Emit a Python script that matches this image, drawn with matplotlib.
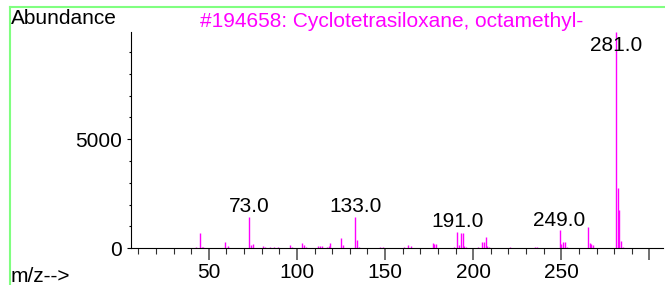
import matplotlib
matplotlib.use("Agg")
import matplotlib.pyplot as plt
from matplotlib.lines import Line2D
from matplotlib.ticker import MultipleLocator, FuncFormatter

# Datos del espectro de masas (m/z, abundancia)
mz = [43, 45, 46, 47, 59, 61, 73, 74, 75, 81, 82, 85, 87, 89, 96, 97,
      103, 104, 105, 112, 113, 114, 117, 118, 119, 125, 126, 133, 134, 135,
      147, 149, 161, 163, 165, 177, 178, 179, 189, 191, 192, 193, 194, 195,
      196, 203, 205, 206, 207, 208, 209, 221, 235, 236, 249, 250, 251, 252,
      253, 265, 266, 267, 268, 281, 282, 283, 284, 285]
abundance = [75, 720, 60, 60, 275, 90, 1450, 150, 215, 90, 60, 50, 50, 60,
             170, 50, 245, 150, 70, 105, 105, 100, 70, 120, 230, 450, 140,
             1450, 385, 75, 75, 40, 40, 150, 105, 245, 180, 200, 45, 765,
             150, 705, 690, 90, 45, 75, 290, 290, 535, 90, 40, 40, 75, 45,
             840, 215, 275, 290, 80, 980, 260, 215, 150, 9900, 2785, 1760,
             340, 75]
labeled = [73, 133, 191, 249, 281]
xtick_labels = [50, 100, 150, 200, 250]

title = "#194658: Cyclotetrasiloxane, octamethyl-"
magenta = "#ff00ff"
W, H = 665, 285

plt.rcParams['font.family'] = ['Liberation Sans', 'DejaVu Sans']
fs = 15

fig = plt.figure(figsize=(W / 100, H / 100), dpi=100)
ax = fig.add_axes([130.7 / W, 1 - 248.3 / H, (662.5 - 130.7) / W, (248.3 - 32.3) / H])

# Picos
ax.vlines(mz, 0, abundance, colors=magenta, linewidth=1.0)

# Etiquetas de los picos principales (recortadas dentro del área)
label_cap = 8830
for m in labeled:
    a = abundance[mz.index(m)]
    ax.annotate(f"{m:.1f}", xy=(m, min(a, label_cap)), xytext=(0, 3),
                textcoords='offset points', ha='center', va='baseline',
                fontsize=fs, color='black')

ax.set_xlim(5.7, 307.4)
ax.set_ylim(0, 9900)

ax.spines['top'].set_visible(False)
ax.spines['right'].set_visible(False)
ax.spines['left'].set_linewidth(0.8)
ax.spines['bottom'].set_linewidth(0.8)

ax.xaxis.set_major_locator(MultipleLocator(50))
ax.xaxis.set_minor_locator(MultipleLocator(10))
ax.xaxis.set_major_formatter(FuncFormatter(
    lambda v, p: f"{v:.0f}" if round(v) in xtick_labels else ""))
ax.yaxis.set_major_locator(MultipleLocator(5000))
ax.yaxis.set_minor_locator(MultipleLocator(1000))

ax.tick_params(axis='x', which='major', length=8.5, width=1.4, color='#707070',
               labelsize=fs, pad=2)
ax.tick_params(axis='x', which='minor', length=4, width=0.8, color='#303030')
ax.tick_params(axis='y', which='major', length=3, width=0.8, labelsize=fs, pad=3)
ax.tick_params(axis='y', which='minor', length=1.5, width=0.8)

# Textos
fig.text(11 / W, 1 - 24.3 / H, "Abundance", fontsize=fs, va='baseline', ha='left')
fig.text(200 / W, 1 - 26.7 / H, title, fontsize=fs, color=magenta,
         va='baseline', ha='left')
fig.text(11 / W, 1 - 282.5 / H, "m/z-->", fontsize=fs, va='baseline', ha='left')

# Marco verde
green = '#80ff80'
fig.add_artist(Line2D([9.5 / W, 1], [1 - 6.5 / H, 1 - 6.5 / H], color=green, linewidth=1.5))
fig.add_artist(Line2D([9.5 / W, 9.5 / W], [0, 1 - 6.5 / H], color=green, linewidth=1.5))

fig.savefig("out.png", dpi=100)
